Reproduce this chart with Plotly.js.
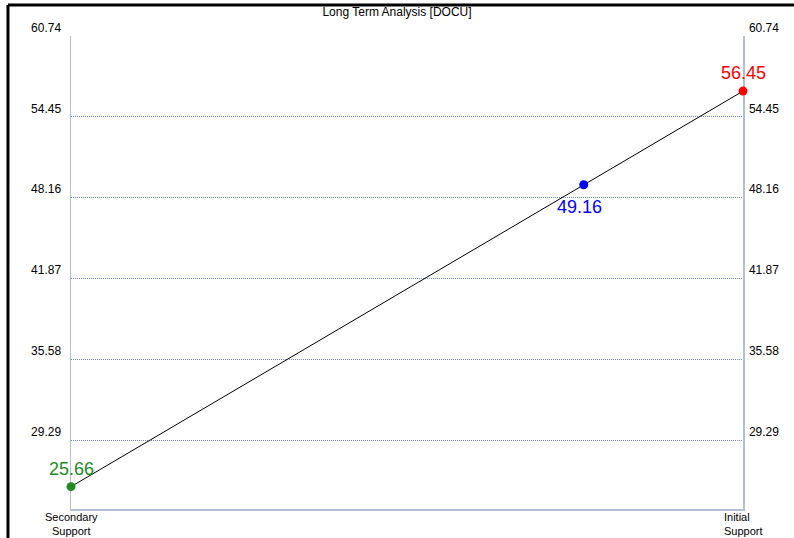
<!DOCTYPE html>
<html>
<head>
<meta charset="utf-8">
<script src="https://cdn.plot.ly/plotly-3.0.1.min.js"></script>
<style>
html,body{margin:0;padding:0;background:#fff;}
#chart{width:794px;height:538px;}
</style>
</head>
<body>
<div id="chart"></div>
<script>
var chartTitle = "Long Term Analysis [DOCU]";
var xPos = [0, 0.763, 1];
var values = [25.66, 49.16, 56.45];
var pointColors = ["#228B22", "#0000FF", "#FF0000"];
var labelShifts = [18, -22, 18];
var tickVals = [29.29, 35.58, 41.87, 48.16, 54.45, 60.74];
var tickText = ["29.29", "35.58", "41.87", "48.16", "54.45", "60.74"];
var xTickVals = [0, 1];
var xTickText = ["Secondary<br>Support", "Initial<br>Support"];
var xTickAlign = ["center", "left"];
var yRange = [23.92, 60.74];

var fontFam = "Liberation Sans, Arial, sans-serif";

var traces = [
  {
    x: xPos, y: values, type: "scatter", mode: "lines",
    line: {color: "#000000", width: 1},
    hoverinfo: "skip", showlegend: false, cliponaxis: false
  },
  {
    x: xPos, y: values, type: "scatter", mode: "markers",
    marker: {color: pointColors, size: 9},
    showlegend: false, cliponaxis: false
  },
  {
    x: xPos, y: values, type: "scatter", mode: "none", yaxis: "y2",
    hoverinfo: "skip", showlegend: false
  }
];

var annotations = [];
values.forEach(function(v, i){
  annotations.push({
    x: xPos[i], y: v, xref: "x", yref: "y",
    text: v.toFixed(2), showarrow: false,
    xanchor: "center", yanchor: "middle",
    yshift: labelShifts[i], xshift: i === 1 ? -4 : 0,
    font: {family: fontFam, size: 18, color: pointColors[i]}
  });
});
xTickVals.forEach(function(xv, i){
  annotations.push({
    x: xv, y: 0, xref: "x", yref: "paper", text: xTickText[i], showarrow: false,
    xanchor: "center", yanchor: "top", yshift: 0, align: xTickAlign[i],
    font: {family: fontFam, size: 11, color: "#000000"}
  });
});

var axisCommon = {
  range: yRange,
  tickvals: tickVals,
  ticktext: tickText,
  ticks: "",
  showgrid: true,
  gridcolor: "#7386bd",
  griddash: "1px,1px",
  gridwidth: 1,
  zeroline: false,
  showline: true,
  linecolor: "#b4bfd6",
  linewidth: 1.5,
  layer: "below traces",
  ticklabelposition: "outside top",
  tickfont: {family: fontFam, size: 12, color: "#000000"}
};

var yaxis = Object.assign({}, axisCommon, {side: "left", ticklabelstandoff: 6});
var yaxis2 = Object.assign({}, axisCommon, {side: "right", overlaying: "y", showgrid: false, ticklabelstandoff: 2});

var layout = {
  width: 794, height: 538,
  margin: {l: 71, r: 51, t: 36, b: 29},
  paper_bgcolor: "#ffffff",
  plot_bgcolor: "#ffffff",
  title: {text: chartTitle, font: {family: fontFam, size: 12, color: "#000000"}, x: 0.5, xanchor: "center", y: 0.978, yanchor: "middle"},
  xaxis: {
    range: [0, 1],
    tickvals: xTickVals,
    showticklabels: false,
    ticks: "",
    showgrid: false,
    zeroline: false,
    showline: true,
    linecolor: "#b4bfd6",
    linewidth: 1.5,
    layer: "below traces"
  },
  yaxis: yaxis,
  yaxis2: yaxis2,
  annotations: annotations,
  shapes: [
    {type: "line", xref: "paper", yref: "paper", x0: -0.0938, x1: -0.0938, y0: -0.1, y1: 1.0655, line: {color: "#000000", width: 3}},
    {type: "line", xref: "paper", yref: "paper", x0: -0.0938, x1: 1.1, y0: 1.0655, y1: 1.0655, line: {color: "#000000", width: 3}}
  ]
};

Plotly.newPlot("chart", traces, layout, {displayModeBar: false, staticPlot: true});
</script>
</body>
</html>
